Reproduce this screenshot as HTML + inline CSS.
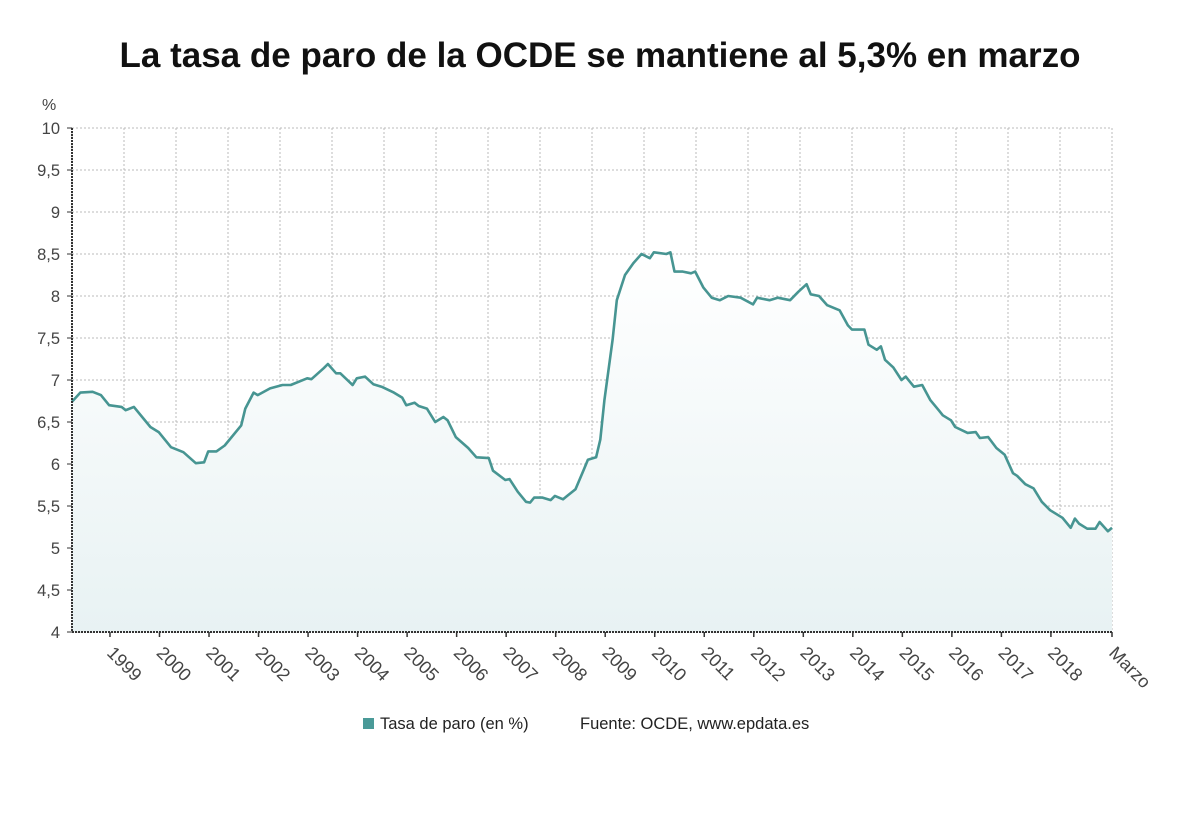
<!DOCTYPE html>
<html><head><meta charset="utf-8"><style>
body{margin:0;background:#fff;}
svg text{font-family:"Liberation Sans","DejaVu Sans",sans-serif;}
</style></head><body>
<svg id="chart" width="1200" height="808" viewBox="0 0 1200 808" xmlns="http://www.w3.org/2000/svg">
<defs><linearGradient id="fillg" x1="0" y1="0" x2="0" y2="1"><stop offset="0" stop-color="#ffffff"/><stop offset="1" stop-color="#e8f2f3"/></linearGradient></defs>
<text x="600" y="67" text-anchor="middle" font-size="35" font-weight="bold" fill="#111">La tasa de paro de la OCDE se mantiene al 5,3% en marzo</text>
<text x="42" y="110" font-size="16" fill="#444">%</text>
<g id="grid"></g><g id="series"></g><g id="axes"></g>
<rect x="363" y="718" width="11" height="11" fill="#4a9a98"/>
<text x="380" y="729" font-size="16.5" fill="#222">Tasa de paro (en %)</text>
<text x="580" y="729" font-size="16.5" fill="#222">Fuente: OCDE, www.epdata.es</text>
</svg>
<script>
const months=[0,2,5,7,9,12,13,15,19,21,24,27,30,32,33,35,37,41,42,44,45,48,51,53,57,58,61,62,64,65,68,69,71,73,75,78,80,81,83,84,86,88,90,91,93,96,98,101,102,105,106,108,110,111,112,114,116,117,119,120,122,124,125,127,128,129,131,132,134,136,138,140,141,144,145,146,148,150,151,153,155,157,159,162,165,166,169,171,174,176,178,179,181,183,186,188,189,192,193,195,196,197,199,201,202,204,206,208,210,211,213,214,217,219,220,222,224,226,228,229,231,233,235,237,240,242,243,244,246,248,249,251,252];
const values=[6.74,6.85,6.86,6.82,6.70,6.68,6.64,6.68,6.44,6.38,6.20,6.14,6.01,6.02,6.15,6.15,6.22,6.46,6.66,6.85,6.82,6.90,6.94,6.94,7.02,7.01,7.14,7.19,7.08,7.08,6.94,7.02,7.04,6.95,6.92,6.85,6.79,6.70,6.73,6.69,6.66,6.50,6.56,6.52,6.32,6.19,6.08,6.07,5.92,5.81,5.82,5.67,5.55,5.54,5.60,5.60,5.57,5.62,5.58,5.62,5.70,5.93,6.05,6.08,6.29,6.76,7.48,7.95,8.25,8.39,8.50,8.45,8.52,8.50,8.52,8.29,8.29,8.27,8.29,8.10,7.98,7.95,8.00,7.98,7.90,7.98,7.95,7.98,7.95,8.05,8.14,8.02,8.00,7.89,7.83,7.65,7.60,7.60,7.42,7.36,7.40,7.24,7.15,7.00,7.04,6.92,6.94,6.76,6.64,6.58,6.52,6.44,6.37,6.38,6.31,6.32,6.19,6.11,5.89,5.86,5.76,5.71,5.55,5.45,5.36,5.24,5.35,5.29,5.23,5.23,5.31,5.20,5.24];
const yTicks=[4,4.5,5,5.5,6,6.5,7,7.5,8,8.5,9,9.5,10];
const xLabels=["1999","2000","2001","2002","2003","2004","2005","2006","2007","2008","2009","2010","2011","2012","2013","2014","2015","2016","2017","2018","Marzo"];
const xLabelMonths=[9.2,21.2,33.2,45.2,57.2,69.2,81.2,93.2,105.2,117.2,129.2,141.2,153.2,165.2,177.2,189.2,201.2,213.2,225.2,237.2,252];
const X0=72,X1=1112,Y0=632,Y1=128,MMAX=252;
const xs=m=>X0+(m/MMAX)*(X1-X0);
const ys=v=>Y0-(v-4)/6*(Y0-Y1);
const NS="http://www.w3.org/2000/svg";
function mk(t,a,p){const e=document.createElementNS(NS,t);for(const k in a)e.setAttribute(k,a[k]);p.appendChild(e);return e;}
const grid=document.getElementById('grid'),ser=document.getElementById('series'),ax=document.getElementById('axes');
yTicks.forEach(v=>{
 const l=mk('line',{x1:X0,x2:X1,y1:ys(v),y2:ys(v),stroke:'#bbb','stroke-dasharray':'2,2'},grid);
 
 
 const t=mk('text',{x:60,y:ys(v)+6,'text-anchor':'end','font-size':16.5,fill:'#444'},ax);
 t.textContent=String(v).replace('.',',');
 
 
 mk('line',{x1:X0-5,x2:X0,y1:ys(v),y2:ys(v),stroke:'#333'},ax);
});
for(let k=0;k<=20;k++){
 const x=X0+k*(X1-X0)/20;
 const l=mk('line',{x1:x,x2:x,y1:Y1,y2:Y0,stroke:'#bbb','stroke-dasharray':'2,2'},grid);
 
 
}
let d='';months.forEach((m,i)=>{d+=(i?'L':'M')+xs(m).toFixed(1)+','+ys(values[i]).toFixed(1);});
const area=mk('path',{d:d+'L'+xs(months[months.length-1])+','+Y0+'L'+xs(months[0])+','+Y0+'Z',fill:'url(#fillg)'},ser);


const line=mk('path',{d:d,fill:'none',stroke:'#479592','stroke-width':2.6,'stroke-linejoin':'round'},ser);


const ya=mk('line',{x1:X0,x2:X0,y1:Y1,y2:Y0,stroke:'#333','stroke-width':2,'stroke-dasharray':'2,1'},ax);


const xa=mk('line',{x1:X0,x2:X1,y1:Y0,y2:Y0,stroke:'#333','stroke-width':2,'stroke-dasharray':'2,1'},ax);


xLabels.forEach((s,i)=>{
 const x=xs(xLabelMonths[i]);
 mk('line',{x1:x,x2:x,y1:Y0,y2:Y0+5,stroke:'#333','stroke-width':1.5},ax);
 const t=mk('text',{x:x-4,y:Y0+22,'font-size':18,fill:'#444',transform:'rotate(45 '+(x-4)+' '+(Y0+22)+')'},ax);
 t.textContent=s;
 
 
});
</script>
</body></html>
